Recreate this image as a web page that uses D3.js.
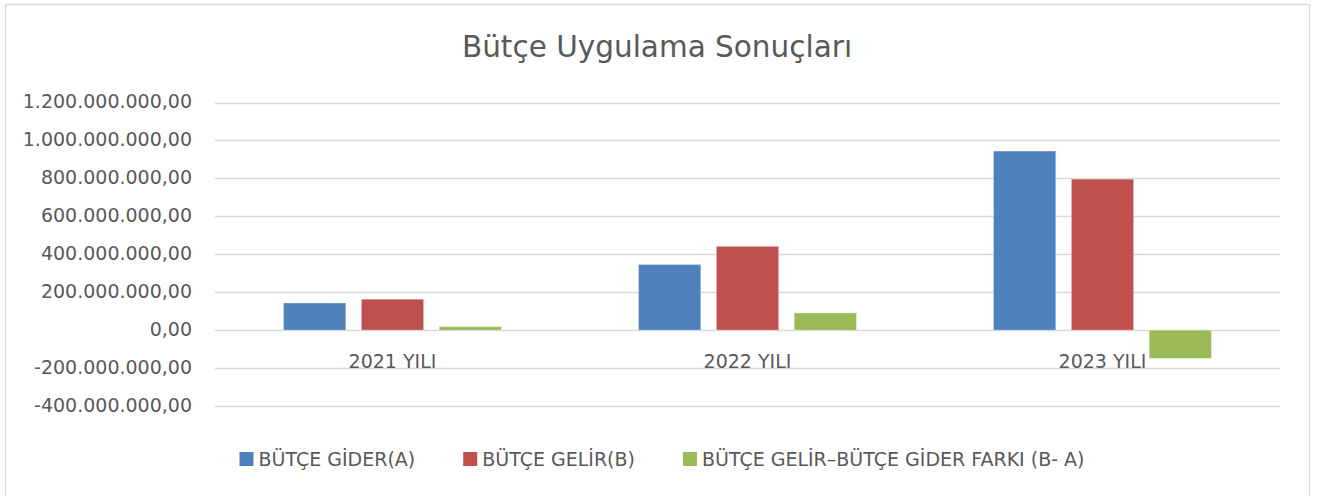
<!DOCTYPE html>
<html>
<head>
<meta charset="utf-8">
<script src="https://cdn.jsdelivr.net/npm/d3@7"></script>
<style>
  body { margin: 0; background: #fff; }
  text { font-family: "DejaVu Sans", sans-serif; fill: #595959; }
</style>
</head>
<body>
<svg id="chart"></svg>
<script>
// values
const categories = ["2021 YILI", "2022 YILI", "2023 YILI"];
const seriesNames = ["BÜTÇE GİDER(A)", "BÜTÇE GELİR(B)", "BÜTÇE GELİR–BÜTÇE GİDER FARKI (B- A)"];
const giderValues = [143000000, 346000000, 944000000];
const gelirValues = [163000000, 442000000, 796000000];
const farkValues = [18000000, 91000000, -149000000];
const yTicks = [-400000000, -200000000, 0, 200000000, 400000000, 600000000, 800000000, 1000000000, 1200000000];
const colors = ["#4F81BD", "#C0504D", "#9BBB59"];

const seriesValues = [giderValues, gelirValues, farkValues];

function drawChart() {
    const width = 1327, height = 496;
    const svg = d3.select("#chart")
        .attr("width", width)
        .attr("height", height);

    // chart border
    svg.append("rect")
        .attr("x", 5.5).attr("y", 4.5)
        .attr("width", 1304).attr("height", 500)
        .attr("fill", "none")
        .attr("stroke", "#D9D9D9")
        .attr("stroke-width", 1.5);

    svg.append("text")
        .attr("x", 657).attr("y", 57)
        .attr("text-anchor", "middle")
        .style("font-size", "29.5px")
        .text("Bütçe Uygulama Sonuçları");

    const left = 215, right = 1280;

    const y = d3.scaleLinear()
        .domain([-400000000, 1200000000])
        .range([406, 102.5]);

    const x0 = d3.scaleBand()
        .domain(categories)
        .range([left, right])
        .padding(0);

    const x1 = d3.scaleBand()
        .domain(d3.range(seriesNames.length))
        .range([0, x0.bandwidth()])
        .paddingInner(0.2)
        .paddingOuter(0.88);

    const trLocale = d3.formatLocale({
        decimal: ",", thousands: ".", grouping: [3], currency: ["", " ₺"], minus: "-"
    });
    const fmt = trLocale.format(",.2f");

    // gridlines
    svg.append("g")
        .selectAll("line")
        .data(yTicks)
        .enter().append("line")
        .attr("x1", left).attr("x2", right)
        .attr("y1", d => Math.round(y(d)) + 0.5)
        .attr("y2", d => Math.round(y(d)) + 0.5)
        .attr("stroke", "#D9D9D9")
        .attr("stroke-width", 1.5);

    // y axis labels
    const yAxis = svg.append("g")
        .attr("transform", `translate(${left},0)`)
        .call(d3.axisLeft(y).tickValues(yTicks).tickFormat(fmt).tickSize(0).tickPadding(23));
    yAxis.select(".domain").remove();
    yAxis.selectAll("text")
        .attr("dy", "0.28em")
        .style("font-size", "19px")
        .style("font-family", "'DejaVu Sans', sans-serif")
        .attr("fill", "#595959");

    // bars
    const rows = [];
    categories.forEach((c, i) => {
        seriesValues.forEach((vals, s) => rows.push({ cat: c, s: s, v: vals[i] }));
    });

    svg.append("g")
        .selectAll(".bar")
        .data(rows)
        .enter().append("rect")
        .attr("class", "bar")
        .attr("x", d => x0(d.cat) + x1(d.s))
        .attr("y", d => y(Math.max(0, d.v)))
        .attr("width", x1.bandwidth())
        .attr("height", d => Math.abs(y(d.v) - y(0)))
        .attr("fill", d => colors[d.s])
        .attr("stroke", "rgba(255,255,255,0.35)")
        .attr("stroke-width", 1);

    // category axis at zero
    const xAxis = svg.append("g")
        .attr("transform", `translate(0,${y(0)})`)
        .call(d3.axisBottom(x0).tickSize(0).tickPadding(24));
    xAxis.select(".domain").remove();
    xAxis.selectAll("text")
        .style("font-size", "19px")
        .style("font-family", "'DejaVu Sans', sans-serif")
        .attr("fill", "#595959");

    // legend
    const legend = svg.append("g");
    let lx = 0;
    seriesNames.forEach((name, i) => {
        const item = legend.append("g").attr("transform", `translate(${lx},0)`);
        item.append("rect")
            .attr("x", 0).attr("y", 452)
            .attr("width", 14).attr("height", 14)
            .attr("fill", colors[i]);
        const t = item.append("text")
            .attr("x", 19).attr("y", 466)
            .style("font-size", "19px")
            .text(name);
        lx += 19 + t.node().getComputedTextLength() + 48;
    });
    const legendWidth = lx - 48;
    legend.attr("transform", `translate(${662 - legendWidth / 2},0)`);
}

document.addEventListener("DOMContentLoaded", drawChart);
</script>
</body>
</html>
